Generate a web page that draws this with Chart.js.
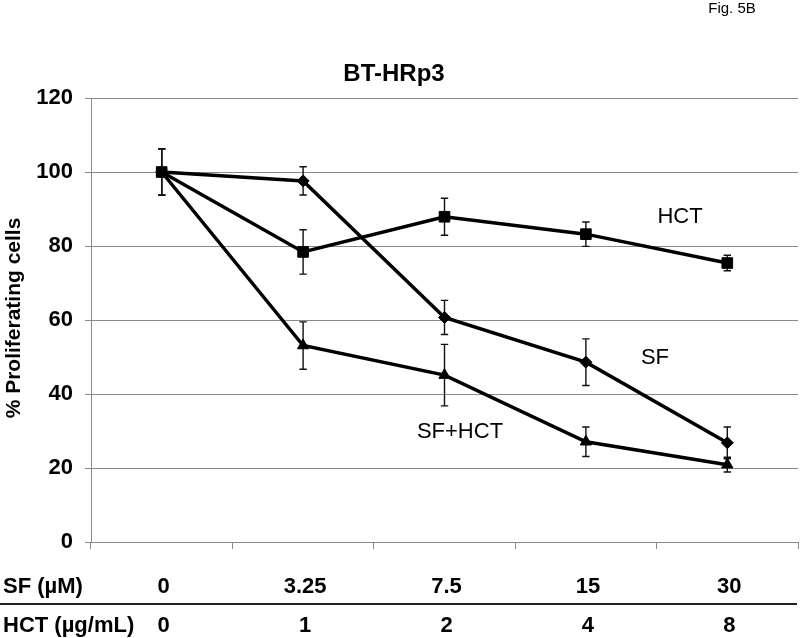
<!DOCTYPE html>
<html>
<head>
<meta charset="utf-8">
<script src="https://cdn.jsdelivr.net/npm/chart.js@4/dist/chart.umd.min.js"></script>
<style>
  html, body { margin: 0; padding: 0; background: #fff; }
  #chart { display: block; }
</style>
</head>
<body>
<canvas id="chart" width="800" height="638"></canvas>
<script>
// Dose table under the chart
const sfDoses = ["0", "3.25", "7.5", "15", "30"];
const hctDoses = ["0", "1", "2", "4", "8"];

// % proliferating cells (mean) and error bars
const sfValues = [100, 97.6, 60.7, 48.6, 26.8];
const sfErrors = [6.3, 3.8, 4.6, 6.3, 4.3];
const hctValues = [100, 78.4, 87.9, 83.2, 75.4];
const hctErrors = [6.3, 6.0, 5.0, 3.3, 2.1];
const comboValues = [100, 53.1, 45.1, 27.1, 20.9];
const comboErrors = [6.3, 6.4, 8.3, 4.0, 2.0];

const yTicks = [0, 20, 40, 60, 80, 100, 120];

const FONT = '"Liberation Sans", Arial, sans-serif';
const GRID = "#8a8a8a";

const errorBars = {
  id: "errorBars",
  beforeDatasetsDraw(chart) {
    const ctx = chart.ctx;
    const y = chart.scales.y;
    ctx.save();
    ctx.strokeStyle = "#111";
    ctx.lineWidth = 1.4;
    chart.data.datasets.forEach((ds, i) => {
      const meta = chart.getDatasetMeta(i);
      meta.data.forEach((pt, j) => {
        const top = y.getPixelForValue(ds.data[j] + ds.errors[j]);
        const bot = y.getPixelForValue(ds.data[j] - ds.errors[j]);
        ctx.beginPath();
        ctx.moveTo(pt.x, top); ctx.lineTo(pt.x, bot);
        ctx.moveTo(pt.x - 3.7, top); ctx.lineTo(pt.x + 3.7, top);
        ctx.moveTo(pt.x - 3.7, bot); ctx.lineTo(pt.x + 3.7, bot);
        ctx.stroke();
      });
    });
    ctx.restore();
  }
};

const textLayer = {
  id: "textLayer",
  afterDraw(chart) {
    const ctx = chart.ctx;
    const x = chart.scales.x;
    ctx.save();
    ctx.fillStyle = "#000";

    // figure tag
    ctx.font = "15px " + FONT;
    ctx.textAlign = "center";
    ctx.textBaseline = "middle";
    ctx.fillText("Fig. 5B", 732, 9);

    // title
    ctx.font = "bold 24px " + FONT;
    ctx.fillText("BT-HRp3", 394, 74);

    // y axis title
    ctx.save();
    ctx.translate(14, 318);
    ctx.rotate(-Math.PI / 2);
    ctx.font = "bold 21px " + FONT;
    ctx.fillText("% Proliferating cells", 0, 0);
    ctx.restore();

    // series labels
    ctx.font = "22px " + FONT;
    ctx.fillText("HCT", 680, 217);
    ctx.fillText("SF", 655, 358);
    ctx.fillText("SF+HCT", 460, 432);

    // dose table
    ctx.font = "bold 22px " + FONT;
    ctx.textAlign = "left";
    ctx.fillText("SF (\u00b5M)", 3, 587);
    ctx.fillText("HCT (\u00b5g/mL)", 3, 626);
    ctx.textAlign = "center";
    sfDoses.forEach((d, i) => ctx.fillText(d, x.getPixelForValue(i) + 2, 587));
    hctDoses.forEach((d, i) => ctx.fillText(d, x.getPixelForValue(i) + 2, 626));

    ctx.strokeStyle = "#222";
    ctx.lineWidth = 2;
    ctx.beginPath();
    ctx.moveTo(0, 604);
    ctx.lineTo(797, 604);
    ctx.stroke();
    ctx.restore();
  }
};

const lineStyle = {
  borderColor: "#000",
  backgroundColor: "#000",
  borderWidth: 3.5,
  pointBackgroundColor: "#000",
  pointBorderColor: "#000",
  pointBorderWidth: 1,
  tension: 0,
  fill: false
};

new Chart(document.getElementById("chart").getContext("2d"), {
  type: "line",
  data: {
    labels: sfDoses,
    datasets: [
      Object.assign({ label: "SF", data: sfValues, errors: sfErrors,
        pointStyle: "rectRot", pointRadius: 6, order: 1 }, lineStyle),
      Object.assign({ label: "HCT", data: hctValues, errors: hctErrors,
        pointStyle: "rect", pointRadius: 7.5, order: 0 }, lineStyle),
      Object.assign({ label: "SF+HCT", data: comboValues, errors: comboErrors,
        pointStyle: "triangle", pointRadius: 6.5, order: 2 }, lineStyle)
    ]
  },
  options: {
    responsive: false,
    animation: false,
    devicePixelRatio: 1,
    layout: { autoPadding: false, padding: { top: 98, right: 2, bottom: 89, left: 0 } },
    plugins: {
      legend: { display: false },
      tooltip: { enabled: false },
      title: { display: false }
    },
    scales: {
      x: {
        type: "category",
        offset: true,
        grid: {
          offset: true,
          drawOnChartArea: false,
          drawTicks: true,
          tickLength: 7,
          color: GRID
        },
        border: { color: GRID },
        ticks: { display: false },
        afterFit: (s) => { s.height = 7; }
      },
      y: {
        min: 0,
        max: 120,
        afterBuildTicks: (s) => { s.ticks = yTicks.map(v => ({ value: v })); },
        grid: { color: GRID, tickLength: 6 },
        border: { color: GRID },
        ticks: {
          padding: 12,
          color: "#000",
          font: { family: FONT, size: 22, weight: "bold" }
        },
        afterFit: (s) => { s.width = 91; }
      }
    }
  },
  plugins: [errorBars, textLayer]
});
</script>
</body>
</html>
